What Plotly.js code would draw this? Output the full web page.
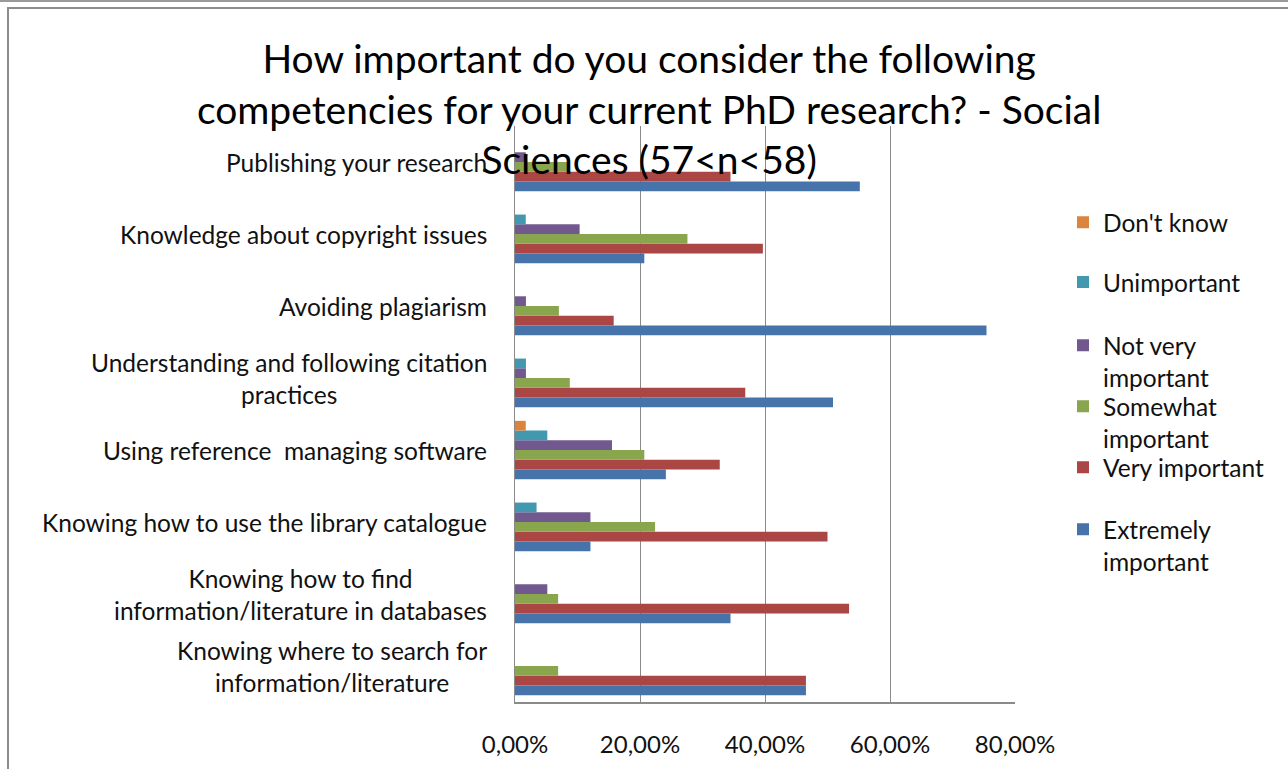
<!DOCTYPE html>
<html>
<head>
<meta charset="utf-8">
<script src="https://cdn.plot.ly/plotly-3.0.1.min.js"></script>
<style>
  html, body { margin: 0; padding: 0; background: #fff; overflow: hidden; }
  #chart { position: absolute; left: 0; top: 0; width: 1288px; height: 769px; }
  .frame-top { position: absolute; left: 0; top: 0; width: 1288px; height: 2px; background: #9a9a9a; pointer-events: none; }
  .frame-box { position: absolute; left: 7px; top: 7px; width: 1300px; height: 800px; border-left: 2px solid #8c8c8c; border-top: 2px solid #8c8c8c; pointer-events: none; }
</style>
</head>
<body>
<div id="chart"></div>
<div class="frame-top"></div>
<div class="frame-box"></div>
<script>
// Categories, listed bottom to top (as Excel draws them)
const categories = [
  "Knowing where to search for<br>information/literature",
  "Knowing how to find<br>information/literature in databases",
  "Knowing how to use the library catalogue",
  "Using reference  managing software",
  "Understanding and following citation<br>practices",
  "Avoiding plagiarism",
  "Knowledge about copyright issues",
  "Publishing your research"
];

// Series values (share of respondents)
const extremelyImportant = [0.4655, 0.3448, 0.1207, 0.2414, 0.5088, 0.7544, 0.2069, 0.5517];
const veryImportant      = [0.4655, 0.5345, 0.5000, 0.3276, 0.3684, 0.1579, 0.3966, 0.3448];
const somewhatImportant  = [0.0690, 0.0690, 0.2241, 0.2069, 0.0877, 0.0702, 0.2759, 0.0862];
const notVeryImportant   = [0,      0.0517, 0.1207, 0.1552, 0.0175, 0.0175, 0.1034, 0.0172];
const unimportant        = [0,      0,      0.0345, 0.0517, 0.0175, 0,      0.0172, 0];
const dontKnow           = [0,      0,      0,      0.0172, 0,      0,      0,      0];

const seriesNames = [
  "Extremely<br>important",
  "Very important<br>&nbsp;",
  "Somewhat<br>important",
  "Not very<br>important",
  "Unimportant<br>&nbsp;",
  "Don't know<br>&nbsp;"
];
const seriesValues = [extremelyImportant, veryImportant, somewhatImportant, notVeryImportant, unimportant, dontKnow];
const seriesColors = ["#4673AA", "#AA4643", "#89A54E", "#71588F", "#4198AF", "#DB843D"];

const xTickValues = [0, 0.2, 0.4, 0.6, 0.8];

const titleText = "How important do you consider the following<br>competencies for your current PhD research? - Social<br>Sciences (57&lt;n&lt;58)";

const FONT = "Lato, 'Open Sans', sans-serif";

// one legend box per series, so the legend rows keep the reference's even spacing
const legendIds = ["legend6", "legend5", "legend4", "legend3", "legend2", "legend"];
const legendTops = [0.339, 0.4467, 0.5526, 0.6585, 0.768, 0.872];

const traces = seriesValues.map((vals, i) => ({
  type: "bar",
  orientation: "h",
  name: seriesNames[i],
  legend: legendIds[i],
  x: vals,
  y: categories,
  marker: { color: seriesColors[i], line: { width: 0 } },
  hoverinfo: "x+name"
}));

const annotations = categories.map(c => ({
  text: c,
  xref: "paper",
  x: 0,
  xanchor: "right",
  xshift: -26,
  yref: "y",
  y: c,
  yanchor: "middle",
  align: "center",
  showarrow: false,
  font: { family: FONT, size: 24.5, color: "#111" }
}));

const layout = {
  width: 1288,
  height: 769,
  margin: { l: 515, r: 273, t: 126, b: 67, pad: 0 },
  paper_bgcolor: "#ffffff",
  plot_bgcolor: "#ffffff",
  separators: ",.",
  barmode: "group",
  bargap: 0.19,
  bargroupgap: 0,
  showlegend: true,
  title: {
    text: titleText,
    font: { family: FONT, size: 39, color: "#000" },
    xref: "container",
    x: 0.504,
    xanchor: "center",
    yref: "container",
    y: 0.905,
    yanchor: "top"
  },
  xaxis: {
    range: [0, 0.8],
    tickvals: xTickValues,
    tickformat: ".2%",
    showgrid: true,
    gridcolor: "#8a8a8a",
    gridwidth: 1,
    showline: true,
    linecolor: "#8a8a8a",
    linewidth: 1.5,
    zeroline: false,
    ticks: "",
    ticklabelstandoff: 21,
    tickfont: { family: FONT, size: 24, color: "#111" },
    fixedrange: true
  },
  yaxis: {
    type: "category",
    categoryorder: "array",
    categoryarray: categories,
    showgrid: false,
    showline: true,
    linecolor: "#8a8a8a",
    linewidth: 1.5,
    zeroline: false,
    ticks: "",
    showticklabels: false,
    fixedrange: true
  },
  annotations: annotations
};

legendIds.forEach((id, i) => {
  layout[id] = {
    x: 1.096,
    xanchor: "left",
    xref: "paper",
    y: legendTops[i],
    yanchor: "top",
    valign: "top",
    font: { family: FONT, size: 24.5, color: "#111" },
    bgcolor: "rgba(0,0,0,0)",
    borderwidth: 0
  };
});

Plotly.newPlot("chart", traces, layout, { displayModeBar: false, staticPlot: true });
</script>
</body>
</html>
